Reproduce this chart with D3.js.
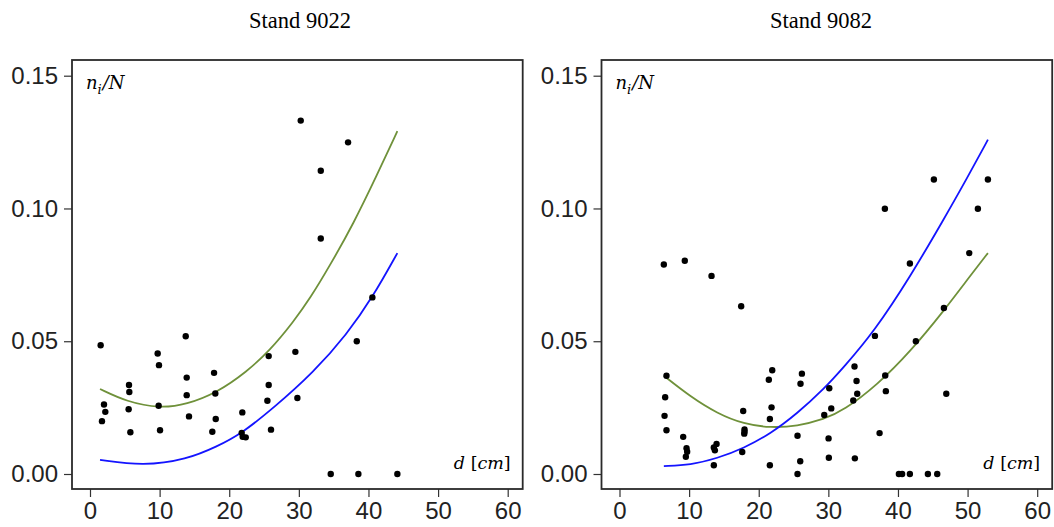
<!DOCTYPE html>
<html>
<head>
<meta charset="utf-8">
<script src="https://cdn.jsdelivr.net/npm/d3@7"></script>
<style>
  body { margin: 0; background: #fff; }
  .tick text { font-family: "Liberation Sans", Arial, sans-serif; }
</style>
</head>
<body>
<div id="chart"></div>
<script>
// Stand 9022: observed shares (d in cm, n_i/N)
const pts9022 = [
  [1.53, 0.0485], [2.01, 0.0262], [2.2, 0.0234], [1.72, 0.0199],
  [5.6, 0.0335], [5.65, 0.0309], [5.55, 0.0244], [5.8, 0.0157],
  [9.72, 0.0454], [9.91, 0.0410], [9.86, 0.0257], [10.06, 0.0165],
  [13.75, 0.0519], [13.89, 0.0363], [13.89, 0.0297], [14.22, 0.0217],
  [17.82, 0.0381], [18.0, 0.0303], [18.06, 0.0207], [17.57, 0.0159],
  [21.88, 0.0232], [21.79, 0.0155], [21.93, 0.0140], [22.37, 0.0138],
  [25.67, 0.0444], [25.67, 0.0335], [25.48, 0.0276], [26.0, 0.0167],
  [29.5, 0.0460], [29.79, 0.0286], [30.27, 0.1331],
  [33.15, 0.1142], [33.15, 0.0887], [37.07, 0.1249],
  [38.32, 0.0500], [40.56, 0.0665],
  [34.58, 0.0], [38.55, 0.0], [44.15, 0.0]
]
// fitted curves
const green9022 = [
  [1.44, 0.0320], [5.27, 0.0272], [10.06, 0.0247], [13.89, 0.0262],
  [18.2, 0.0306], [22.51, 0.0385], [25.86, 0.0466], [29.21, 0.0573],
  [31.61, 0.0661], [34.48, 0.0786], [37.83, 0.0942], [41.19, 0.1124],
  [44.15, 0.1291]
]
const blue9022 = [
  [1.44, 0.0053], [7.66, 0.0030], [13.89, 0.0055], [18.2, 0.0103],
  [21.8, 0.0153], [26.34, 0.0248], [32.08, 0.0382], [36.88, 0.0525],
  [40.7, 0.0670], [44.15, 0.0832]
]

// Stand 9082
const pts9082 = [
  [6.37, 0.0789], [9.38, 0.0803], [13.22, 0.0746], [17.48, 0.0632],
  [6.75, 0.0370], [6.56, 0.0289], [6.47, 0.0219], [6.75, 0.0165],
  [9.15, 0.0140], [9.63, 0.0097], [9.72, 0.0084], [9.53, 0.0065],
  [13.94, 0.0113], [13.55, 0.0100], [13.7, 0.0089], [13.55, 0.0033],
  [17.77, 0.0237], [17.96, 0.0168], [17.96, 0.0159], [17.92, 0.0152], [17.63, 0.0083],
  [21.94, 0.0391], [21.45, 0.0355], [21.84, 0.0251], [21.6, 0.0207], [21.6, 0.0033],
  [26.2, 0.0378], [26.0, 0.0340], [25.57, 0.0144], [25.96, 0.0048], [25.57, 0.0],
  [30.13, 0.0323], [30.42, 0.0247], [29.41, 0.0222], [30.03, 0.0134], [30.07, 0.0061],
  [33.76, 0.0405], [34.05, 0.0350], [34.15, 0.0302], [33.58, 0.0277], [33.81, 0.0059],
  [36.69, 0.0520], [37.36, 0.0154], [38.17, 0.0371], [38.26, 0.0312],
  [38.12, 0.0999], [41.71, 0.0793], [42.57, 0.0500],
  [40.13, 0.0], [40.6, 0.0], [41.71, 0.0], [44.3, 0.0], [45.64, 0.0],
  [45.16, 0.1109], [46.6, 0.0625], [46.94, 0.0302],
  [50.24, 0.0832], [51.48, 0.0999], [52.92, 0.1109]
]
const green9082 = [
  [6.37, 0.0370], [10.2, 0.0291], [14.04, 0.0228], [17.86, 0.0188],
  [21.7, 0.0174], [25.53, 0.0180], [29.36, 0.0206], [32.23, 0.0240],
  [37.02, 0.0335], [41.81, 0.0462], [46.6, 0.0615], [50.43, 0.0748],
  [52.92, 0.0832]
]
const blue9082 = [
  [6.37, 0.0030], [10.2, 0.0034], [14.04, 0.0059], [17.86, 0.0097],
  [21.7, 0.0152], [25.53, 0.0228], [29.36, 0.0320], [32.23, 0.0403],
  [36.54, 0.0535], [41.81, 0.0745], [46.6, 0.0960], [49.95, 0.1115],
  [52.92, 0.1259]
]

const xTicks = [0, 10, 20, 30, 40, 50, 60]
const yTicks = [0, 0.05, 0.10, 0.15]

const W = 1054, H = 527
const svg = d3.select('#chart').append('svg')
    .attr('width', W).attr('height', H)

function panel(left, title, titleX, pts, green, blue) {
  // box in page pixels, axis ranges inside it
  var box = { x0: left, x1: left + 450.7, y0: 60, y1: 489 }
  var x = d3.scaleLinear().domain([0, 60]).range([left + 18, left + 435.7])
  var y = d3.scaleLinear().domain([0, 0.15]).range([474, 75.7])

  var g = svg.append('g')

  g.append('text')
      .attr('x', titleX).attr('y', 28)
      .attr('text-anchor', 'middle')
      .style('font-family', '"Liberation Serif", "Times New Roman", serif')
      .style('font-size', '22.5px')
      .text(title)

  var xAxis = d3.axisBottom(x).tickValues(xTicks).tickSize(8).tickPadding(3)
      .tickFormat(d3.format('d'))
  var yAxis = d3.axisLeft(y).tickValues(yTicks).tickSize(8).tickPadding(6)
      .tickFormat(d3.format('.2f'))

  var gx = g.append('g').attr('transform', 'translate(0,' + box.y1 + ')').call(xAxis)
  var gy = g.append('g').attr('transform', 'translate(' + box.x0 + ',0)').call(yAxis)
  ;[gx, gy].forEach(function(a) {
    a.select('.domain').remove()
    a.selectAll('line').attr('stroke', '#333').attr('stroke-width', 1.2)
    a.selectAll('text').attr('fill', '#222').style('font-size', '24px')
  })
  gx.selectAll('text').attr('dy', '0.78em')

  var line = d3.line()
      .x(function(d) { return x(d[0]) })
      .y(function(d) { return y(d[1]) })
      .curve(d3.curveBasis)

  g.append('path').datum(green)
      .attr('d', line).attr('fill', 'none')
      .attr('stroke', '#6f913a').attr('stroke-width', 1.8)
  g.append('path').datum(blue)
      .attr('d', line).attr('fill', 'none')
      .attr('stroke', '#1414ff').attr('stroke-width', 1.8)

  g.append('g').selectAll('circle').data(pts)
    .enter().append('circle')
      .attr('cx', function(d) { return x(d[0]) })
      .attr('cy', function(d) { return y(d[1]) })
      .attr('r', 3.2)
      .attr('fill', '#000')

  g.append('rect')
      .attr('x', box.x0).attr('y', box.y0)
      .attr('width', box.x1 - box.x0).attr('height', box.y1 - box.y0)
      .attr('fill', 'none').attr('stroke', '#2a2a2a').attr('stroke-width', 1.8)

  var mathFont = '"DejaVu Serif", "Liberation Serif", serif'
  var lab = g.append('text')
      .attr('x', box.x0 + 14).attr('y', 89)
      .style('font-family', mathFont).style('font-size', '18px')
      .style('font-style', 'italic')
  lab.append('tspan').text('n')
  lab.append('tspan').attr('dy', 5).style('font-size', '13px').text('i')
  lab.append('tspan').attr('dy', -5).attr('dx', 1).text('/N')

  var dl = g.append('text')
      .attr('x', box.x1 - 12).attr('y', 469)
      .attr('text-anchor', 'end')
      .style('font-family', mathFont).style('font-size', '17.5px')
  dl.append('tspan').style('font-style', 'italic').text('d ')
  dl.append('tspan').text('[')
  dl.append('tspan').style('font-style', 'italic').text('cm')
  dl.append('tspan').text(']')
}

panel(72, 'Stand 9022', 300, pts9022, green9022, blue9022)
panel(601.5, 'Stand 9082', 821, pts9082, green9082, blue9082)
</script>
</body>
</html>
